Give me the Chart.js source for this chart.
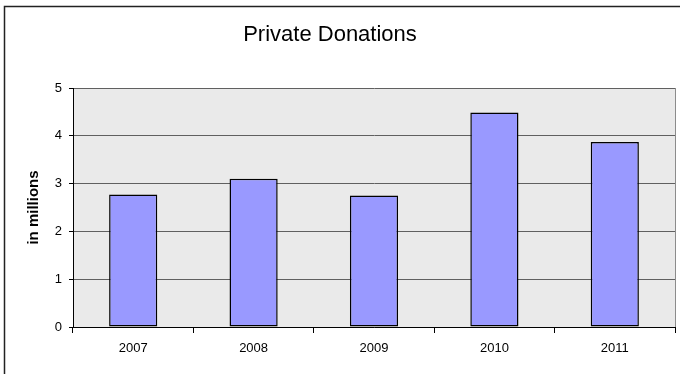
<!DOCTYPE html>
<html>
<head>
<meta charset="utf-8">
<script src="https://cdn.jsdelivr.net/npm/chart.js@4/dist/chart.umd.min.js"></script>
<style>
  html, body { margin: 0; padding: 0; background: #fff; }
  #wrap { width: 680px; height: 374px; }
</style>
</head>
<body>
<div id="wrap"><canvas id="chart" width="680" height="374"></canvas></div>
<script>
(() => {
  const years = ["2007", "2008", "2009", "2010", "2011"];
  const donations = [2.77, 3.1, 2.75, 4.49, 3.87];
  const chartTitle = "Private Donations";
  const axisTitle = "in millions";

  const font = "'Liberation Sans', Arial, sans-serif";

  // frame, gray plot background and the chart heading
  const backdrop = {
    id: "backdrop",
    beforeDraw: (chart) => {
      const { ctx, chartArea: a } = chart;
      ctx.save();
      ctx.fillStyle = "#eaeaea";
      ctx.fillRect(a.left, a.top, a.right - a.left, a.bottom - a.top);
      ctx.strokeStyle = "#8c8c8c";
      ctx.lineWidth = 1;
      ctx.beginPath();
      ctx.moveTo(a.right + 0.5, a.top);
      ctx.lineTo(a.right + 0.5, a.bottom);
      ctx.stroke();
      ctx.strokeStyle = "#222";
      ctx.lineWidth = 1.5;
      ctx.beginPath();
      ctx.moveTo(4.5, 400);
      ctx.lineTo(4.5, 6.5);
      ctx.lineTo(700, 6.5);
      ctx.stroke();
      ctx.restore();
    },
    afterDraw: (chart) => {
      const { ctx } = chart;
      ctx.save();
      ctx.fillStyle = "#000";
      ctx.font = `22px ${font}`;
      ctx.textAlign = "center";
      ctx.textBaseline = "middle";
      ctx.fillText(chartTitle, 330, 35);
      ctx.restore();
    },
  };

  const ctx = document.getElementById("chart").getContext("2d");

  new Chart(ctx, {
    type: "bar",
    data: {
      labels: years,
      datasets: [
        {
          data: donations,
          backgroundColor: "#9999ff",
          borderColor: "#000",
          borderWidth: 1.5,
          borderSkipped: false,
          categoryPercentage: 1,
          barPercentage: 0.4,
        },
      ],
    },
    options: {
      responsive: false,
      animation: false,
      layout: { padding: { top: 88, right: 5, left: 0, bottom: 0 } },
      plugins: {
        legend: { display: false },
        tooltip: { enabled: false },
        title: { display: false },
      },
      scales: {
        x: {
          offset: true,
          grid: {
            offset: true,
            drawOnChartArea: false,
            tickLength: 6,
            tickColor: "#000",
          },
          border: { color: "#000", width: 1 },
          ticks: {
            color: "#000",
            padding: 8,
            maxRotation: 0,
            font: { family: font, size: 13 },
          },
          afterFit: (scale) => {
            scale.height = 47;
          },
        },
        y: {
          min: 0,
          max: 5,
          grid: {
            color: "#606060",
            tickColor: "#000",
            tickLength: 4,
          },
          border: { color: "#000", width: 1 },
          ticks: {
            stepSize: 1,
            color: "#000",
            padding: 7,
            font: { family: font, size: 13 },
          },
          title: {
            display: true,
            text: axisTitle,
            color: "#000",
            padding: { top: 25, bottom: 0 },
            font: { family: font, size: 15, weight: "bold" },
          },
          afterFit: (scale) => {
            scale.width = 73;
          },
        },
      },
    },
    plugins: [backdrop],
  });
})();
</script>
</body>
</html>
